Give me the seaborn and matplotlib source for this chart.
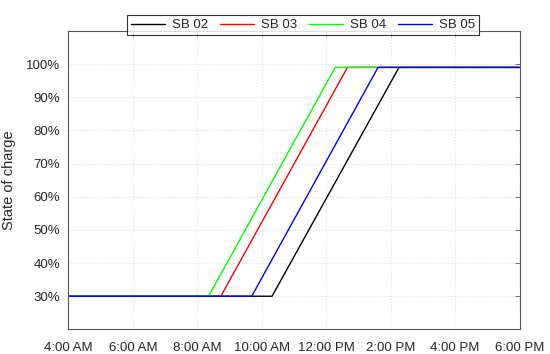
import matplotlib
matplotlib.use("Agg")
import matplotlib.pyplot as plt
from matplotlib.ticker import PercentFormatter
import seaborn as sns
import pandas as pd

# Data (hours of day, state of charge as fraction)
series = ["SB 02", "SB 03", "SB 04", "SB 05"]
start_soc = 0.30
full_soc = 0.99
charge_start = [10.32, 8.73, 8.35, 9.69]
charge_end = [14.26, 12.66, 12.28, 13.61]
day_start = 4
day_end = 18
colors = ["#000000", "#ff0000", "#00ff00", "#0000ff"]
xtick_hours = [4, 6, 8, 10, 12, 14, 16, 18]
xtick_labels = ["4:00 AM", "6:00 AM", "8:00 AM", "10:00 AM", "12:00 PM", "2:00 PM", "4:00 PM", "6:00 PM"]
ytick_vals = [0.3, 0.4, 0.5, 0.6, 0.7, 0.8, 0.9, 1.0]

rows = []
for name, s, e in zip(series, charge_start, charge_end):
    for h, v in [(day_start, start_soc), (s, start_soc), (e, full_soc), (day_end, full_soc)]:
        rows.append({"hour": h, "soc": v, "unit": name})
df = pd.DataFrame(rows)

sns.set_style("white")
plt.rcParams["font.family"] = ["Liberation Sans", "DejaVu Sans"]
plt.rcParams["font.size"] = 9.5

fig, ax = plt.subplots(figsize=(5.5, 3.54), dpi=100)
fig.subplots_adjust(left=68.4 / 550, right=519.5 / 550, top=1 - 30.9 / 354, bottom=1 - 329.4 / 354)

sns.lineplot(data=df, x="hour", y="soc", hue="unit", palette=colors,
             hue_order=series, sort=False, estimator=None, linewidth=1.0, ax=ax)

ax.set_xlim(day_start, day_end)
ax.set_ylim(0.2, 1.1)
ax.set_xticks(xtick_hours)
ax.set_xticklabels(xtick_labels)
ax.set_yticks(ytick_vals)
ax.yaxis.set_major_formatter(PercentFormatter(1.0, decimals=0))
ax.set_xlabel("")
ax.set_ylabel("State of charge", fontsize=10.5, labelpad=7)

ax.grid(True, color="#e0e0e0", linestyle=":", linewidth=0.8)
ax.tick_params(direction="in", length=3.5, width=0.6, color="#555555",
               top=True, right=True, labelsize=9.5, labelcolor="#262626")
ax.tick_params(axis="x", pad=9)
ax.tick_params(axis="y", pad=6)
for sp in ax.spines.values():
    sp.set_color("#555555")
    sp.set_linewidth(0.8)

leg = ax.legend(loc="lower center", bbox_to_anchor=(0.52, 0.985), ncol=4,
                frameon=True, fancybox=False, edgecolor="#000000",
                fontsize=9.5, handlelength=2.6, columnspacing=0.9,
                handletextpad=0.5, borderpad=0.3, borderaxespad=0)
leg.get_frame().set_linewidth(0.8)
leg.set_title(None)

fig.savefig("out.png", dpi=100)
